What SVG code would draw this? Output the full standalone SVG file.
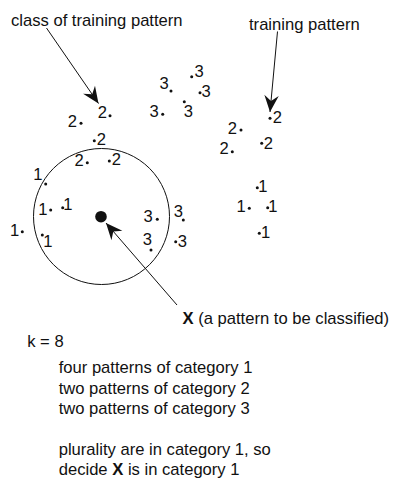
<svg xmlns="http://www.w3.org/2000/svg" width="394" height="478" viewBox="0 0 394 478">
<style>
text{font-family:"Liberation Sans",Arial,Helvetica,sans-serif;font-size:16.6px;fill:#111}
.d{fill:#111}
.c{fill:none;stroke:#111;stroke-width:1}
</style>
<defs>
<marker id="ah" markerUnits="userSpaceOnUse" markerWidth="20" markerHeight="20" refX="0" refY="0" orient="auto" viewBox="-16 -8 18 16">
<path d="M0,0 L-15,-6.5 L-10,0 L-15,6.5 Z" fill="#111"/>
</marker>
</defs>
<rect width="394" height="478" fill="#fff"/>
<g id="neighbourhood">
<circle class="c" cx="101.5" cy="216.5" r="68"/>
<circle class="d" cx="101" cy="216.7" r="5.8"/>
</g>
<g id="class1">
<circle class="d" cx="45.7" cy="184" r="1.5"/><text x="33.2" y="180">1</text>
<circle class="d" cx="50.7" cy="210" r="1.5"/><text x="38.2" y="215">1</text>
<circle class="d" cx="62.7" cy="207.7" r="1.5"/><text x="63.2" y="209.5">1</text>
<circle class="d" cx="22.3" cy="231.7" r="1.5"/><text x="9.9" y="236">1</text>
<circle class="d" cx="42.3" cy="235" r="1.5"/><text x="43.2" y="246.7">1</text>
<circle class="d" cx="257.3" cy="187.7" r="1.5"/><text x="258.2" y="191.7">1</text>
<circle class="d" cx="249.3" cy="208.3" r="1.5"/><text x="236.5" y="212">1</text>
<circle class="d" cx="267.7" cy="207.7" r="1.5"/><text x="268.2" y="212">1</text>
<circle class="d" cx="259.3" cy="233.3" r="1.5"/><text x="260.9" y="238.3">1</text>
</g>
<g id="class2">
<circle class="d" cx="81" cy="123.3" r="1.5"/><text x="67.7" y="126.7">2</text>
<circle class="d" cx="110" cy="115.7" r="1.5"/><text x="97.7" y="118.3">2</text>
<circle class="d" cx="94.3" cy="140.7" r="1.5"/><text x="96.7" y="145">2</text>
<circle class="d" cx="87.3" cy="162.7" r="1.5"/><text x="74.4" y="165.7">2</text>
<circle class="d" cx="109.3" cy="161" r="1.5"/><text x="111.7" y="165.3">2</text>
<circle class="d" cx="241" cy="130" r="1.5"/><text x="227.7" y="134.3">2</text>
<circle class="d" cx="270" cy="118.3" r="1.5"/><text x="272.7" y="123.3">2</text>
<circle class="d" cx="261.7" cy="143.3" r="1.5"/><text x="263.7" y="149.3">2</text>
<circle class="d" cx="232.3" cy="151.7" r="1.5"/><text x="219.4" y="154.3">2</text>
</g>
<g id="class3">
<circle class="d" cx="171" cy="91" r="1.5"/><text x="159.4" y="89.3">3</text>
<circle class="d" cx="191.7" cy="76.7" r="1.5"/><text x="194.4" y="77.3">3</text>
<circle class="d" cx="200" cy="92.7" r="1.5"/><text x="201.4" y="96.7">3</text>
<circle class="d" cx="184.3" cy="101.7" r="1.5"/><text x="183.7" y="116.7">3</text>
<circle class="d" cx="162.7" cy="114.3" r="1.5"/><text x="149.4" y="117.3">3</text>
<circle class="d" cx="157.3" cy="219.3" r="1.5"/><text x="143.4" y="222.3">3</text>
<circle class="d" cx="183.3" cy="220" r="1.5"/><text x="173.7" y="216.7">3</text>
<circle class="d" cx="151" cy="250" r="1.5"/><text x="142.7" y="245">3</text>
<circle class="d" cx="175.7" cy="241.7" r="1.5"/><text x="177.7" y="246.7">3</text>
</g>
<g id="connectors">
<line class="c" x1="46.5" y1="28" x2="98.5" y2="103.5" marker-end="url(#ah)"/>
<line class="c" x1="277.5" y1="31.5" x2="270" y2="112" marker-end="url(#ah)"/>
<line class="c" x1="177" y1="305" x2="106" y2="223" marker-end="url(#ah)"/>
</g>
<g id="labels">
<text x="11" y="25.7">class of training pattern</text>
<text x="249" y="30">training pattern</text>
<text x="182.5" y="324"><tspan font-weight="bold">X</tspan> (a pattern to be classified)</text>
<text x="27.2" y="347">k = 8</text>
<text x="58.7" y="373.3">four patterns of category 1</text>
<text x="58.7" y="393.6">two patterns of category 2</text>
<text x="58.7" y="414">two patterns of category 3</text>
<text x="58.7" y="454.7">plurality are in category 1, so</text>
<text x="58.7" y="475">decide <tspan font-weight="bold">X</tspan> is in category 1</text>
</g>
</svg>
